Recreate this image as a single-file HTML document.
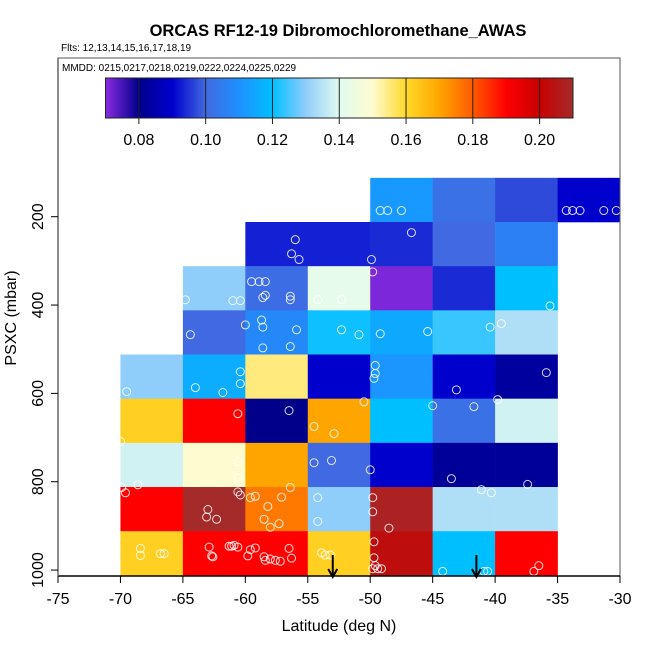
<!DOCTYPE html>
<html><head><meta charset="utf-8">
<style>
html,body{margin:0;padding:0;background:#fff;}
svg{display:block;font-family:"Liberation Sans",sans-serif;}
</style></head>
<body>
<svg id="chart" width="650" height="650" viewBox="0 0 650 650"></svg>
<script>
// ---- data ----
const latBins = [-70,-65,-60,-55,-50,-45,-40,-35];           // left edges of 5-deg bins
const presBins = [150,250,350,450,550,650,750,850,950];       // bin centers (mbar)
// values per pressure row, by latitude bin (null = no data)
const row150 = [null,null,null,null,0.112,0.102,0.097,0.090];
const row250 = [null,null,0.093,0.093,0.094,0.100,0.106,null];
const row350 = [null,0.130,0.101,0.142,0.071,0.094,0.120,null];
const row450 = [null,0.100,0.108,0.121,0.115,0.124,0.134,null];
const row550 = [0.130,0.116,0.155,0.090,0.111,0.090,0.083,null];
const row650 = [0.162,0.190,0.080,0.170,0.120,0.102,0.138,null];
const row750 = [0.138,0.150,0.170,0.100,0.090,0.082,0.082,null];
const row850 = [0.190,0.210,0.176,0.130,0.208,0.134,0.134,null];
const row950 = [0.162,0.190,0.190,0.162,0.203,0.120,0.190,null];
const gridRows = [row150,row250,row350,row450,row550,row650,row750,row850,row950];
const sampleLat = [-49.2,-48.6,-47.5,-34.3,-33.8,-33.2,-31.3,-30.3,-46.7,-56.0,-56.3,-55.7,-49.9,-49.8,
 -64.8,-59.5,-58.9,-58.4,-58.4,-58.6,-61.0,-60.4,-56.4,-56.4,-54.2,-52.3,-35.6,
 -64.4,-60.0,-58.7,-58.6,-58.6,-56.4,-55.9,-52.3,-50.9,-49.2,-45.4,-39.5,-40.4,
 -69.5,-64.0,-60.4,-60.4,-61.8,-49.6,-49.6,-49.7,-43.1,-35.9,-39.8,
 -60.6,-56.5,-54.5,-52.9,-50.5,-45.0,-41.7,
 -70.0,-60.6,-60.6,-54.5,-53.1,-50.0,-43.5,-41.1,-40.3,-37.4,
 -69.9,-69.6,-68.6,-63.0,-63.1,-62.3,-60.6,-60.4,-59.6,-59.2,-58.5,-58.0,-57.3,-56.4,-57.1,-58.2,-54.2,-54.2,-49.8,-49.8,-48.5,
 -68.4,-68.4,-66.8,-66.5,-62.9,-62.7,-62.6,-61.3,-61.1,-60.9,-60.6,-59.6,-59.2,-58.5,-59.8,-58.4,-58.0,-57.6,-57.2,-56.5,-56.3,-53.9,-53.6,-53.2,-49.7,-49.7,-49.8,-49.4,-49.1,-49.6,-44.2,-40.9,-40.6,-36.9,-36.5];
const samplePres = [186,186,186,186,186,186,186,186,236,252,284,297,297,325,
 388,347,347,347,378,383,390,390,380,388,388,388,402,
 467,445,434,450,497,494,456,456,467,465,460,442,450,
 596,587,578,551,598,537,555,566,592,553,614,
 646,639,675,691,619,628,630,
 709,755,791,757,752,773,793,818,825,806,
 813,825,807,863,880,885,823,830,836,833,885,903,895,813,835,856,836,890,868,836,905,
 951,967,963,963,948,968,970,946,946,944,948,954,950,970,968,978,975,978,980,951,973,961,966,966,972,936,997,997,997,990,1003,1003,1003,1003,990];
const arrowLat = [-53.0,-41.5];
const cbTicks = [0.08,0.10,0.12,0.14,0.16,0.18,0.20];
const xTicks = [-75,-70,-65,-60,-55,-50,-45,-40,-35,-30];
const yTicks = [200,400,600,800,1000];
// colour scale stops
const cStops = [0.07,0.08,0.09,0.10,0.11,0.12,0.13,0.14,0.15,0.16,0.17,0.18,0.19,0.20,0.21];
const cCols = ["#8a2be2","#00008b","#0000cd","#4169e1","#1e90ff","#00bfff","#8fcdfa","#e0fbf0","#fffbd0","#ffd92a","#ffa500","#ff5a00","#ff0000","#c80000","#a52a2a"];

// ---- scales ----
const X0=58, X1=620, L0=-75, L1=-30;
const x = v => X0 + (v-L0)*(X1-X0)/(L1-L0);
const y = p => 216.7 + (p-200)*0.4417;
const CB0=105.5, CB1=573;
const cx = v => CB0 + (v-0.07)*(CB1-CB0)/0.14;
function hex(h){return [1,3,5].map(i=>parseInt(h.substr(i,2),16));}
function color(v){
  if(v<=cStops[0]) return cCols[0];
  for(let i=0;i<cStops.length-1;i++){
    if(v<=cStops[i+1]){
      const t=(v-cStops[i])/(cStops[i+1]-cStops[i]);
      const a=hex(cCols[i]), b=hex(cCols[i+1]);
      return "rgb("+a.map((c,k)=>Math.round(c+(b[k]-c)*t)).join(",")+")";
    }
  }
  return cCols[cCols.length-1];
}
const NS="http://www.w3.org/2000/svg";
const svg=document.getElementById("chart");
function mk(tag,attrs,parent,txt){
  const e=document.createElementNS(NS,tag);
  for(const k in attrs) e.setAttribute(k,attrs[k]);
  if(txt!==undefined) e.textContent=txt;
  (parent||svg).appendChild(e);
  return e;
}

// title & subtitle
let t=mk("text",{x:338,y:36,"text-anchor":"middle","font-size":"16.5","font-weight":"bold"},svg,"ORCAS RF12-19 Dibromochloromethane_AWAS");


t=mk("text",{x:61,y:51,"font-size":"10"},svg,"Flts: 12,13,14,15,16,17,18,19");



// grid cells
const cells=mk("g",{});


gridRows.forEach((row,ri)=>{
  const pc=presBins[ri];
  row.forEach((v,li)=>{
    if(v===null) return;
    const x0=x(latBins[li]), x1=x(latBins[li]+5);
    const y0=y(pc-50+12), y1=y(pc+50+12);
    const r=mk("rect",{x:x0,y:y0,width:x1-x0+0.3,height:y1-y0+0.3,fill:color(v)},cells);
    
    
  });
});

// sample points
const pts=mk("g",{fill:"none",stroke:"#fff","stroke-width":"1","stroke-opacity":"0.85"});


sampleLat.forEach((la,i)=>{
  const c=mk("circle",{cx:x(la),cy:y(samplePres[i]),r:4},pts);
  
  
});

// arrows
arrowLat.forEach(la=>{
  const g=mk("g",{stroke:"#000","stroke-width":"2",fill:"none"});
  
  
  const ax=x(la);
  mk("line",{x1:ax,y1:555,x2:ax,y2:577},g);
  mk("polyline",{points:(ax-4.5)+",569 "+ax+",577 "+(ax+4.5)+",569"},g);
});

// plot box
const box=mk("rect",{x:58,y:58,width:562,height:518,fill:"none",stroke:"#555","stroke-width":"1"});


t=mk("text",{x:62,y:71,"font-size":"10"},svg,"MMDD: 0215,0217,0218,0219,0222,0224,0225,0229");



// colorbar
const cb=mk("g",{});


const defs=mk("defs",{});
const grad=mk("linearGradient",{id:"cbg",x1:"0",x2:"1",y1:"0",y2:"0"},defs);
cStops.forEach((s,i)=>mk("stop",{offset:((s-0.07)/0.14),"stop-color":cCols[i]},grad));
mk("rect",{x:CB0,y:78,width:CB1-CB0,height:40,fill:"url(#cbg)",stroke:"#222","stroke-width":"1"},cb);
cbTicks.forEach(v=>{
  mk("line",{x1:cx(v),y1:78,x2:cx(v),y2:124,stroke:"#222","stroke-width":"1"},cb);
  const tl=mk("text",{x:cx(v),y:145,"text-anchor":"middle","font-size":"16"},cb,v.toFixed(2));
  
  
});

// x axis
const xa=mk("g",{});


mk("line",{x1:58,y1:576,x2:620,y2:576,stroke:"#000","stroke-width":"1.5"},xa);
xTicks.forEach(v=>{
  mk("line",{x1:x(v),y1:576,x2:x(v),y2:583,stroke:"#000"},xa);
  const tl=mk("text",{x:x(v),y:604,"text-anchor":"middle","font-size":"16"},xa,String(v));
  
  
});
t=mk("text",{x:339,y:631,"text-anchor":"middle","font-size":"16"},svg,"Latitude (deg N)");



// y axis
const ya=mk("g",{});


mk("line",{x1:58,y1:58,x2:58,y2:576,stroke:"#666","stroke-width":"1.5"},ya);
yTicks.forEach(v=>{
  mk("line",{x1:51,y1:y(v),x2:58,y2:y(v),stroke:"#000"},ya);
  const tl=mk("text",{x:0,y:0,"text-anchor":"middle","font-size":"16",transform:"translate(43,"+y(v)+") rotate(-90)"},ya,String(v));
  
  
});
t=mk("text",{x:0,y:0,"text-anchor":"middle","font-size":"16",transform:"translate(16,318) rotate(-90)"},svg,"PSXC (mbar)");


</script>
</body></html>
